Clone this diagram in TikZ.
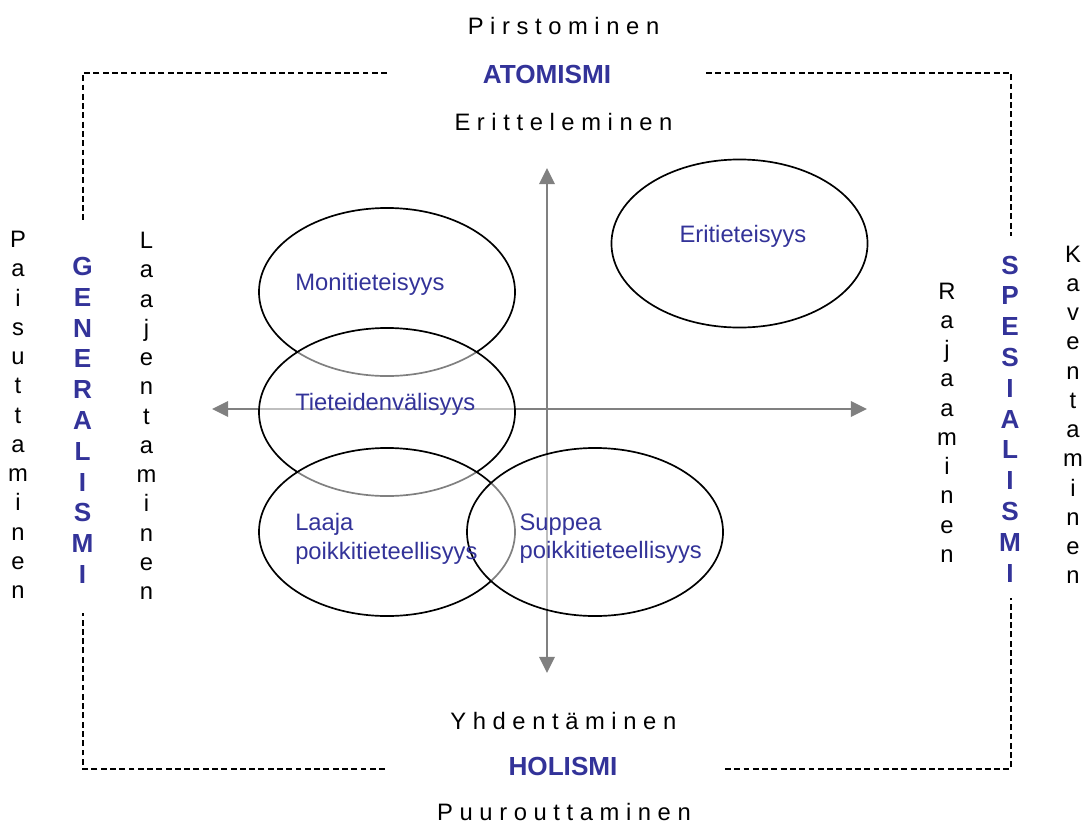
\documentclass[tikz,border=0pt]{standalone}
\usepackage{fontspec}
\setmainfont{Liberation Sans}
\usetikzlibrary{shapes.geometric,arrows.meta}
\definecolor{ismblue}{RGB}{51,51,153}
\definecolor{axisgrey}{RGB}{128,128,128}
\tikzset{
    field/.style={ellipse, draw, line width=1.2pt, minimum width=6.4cm, minimum height=4.2cm,
        inner sep=0pt, fill=white, fill opacity=0.5},
    fieldname/.style={text=ismblue, anchor=north west, inner sep=0pt, align=left,
        font=\fontsize{16.9}{20.1}\selectfont},
    ism/.style={text=ismblue, inner sep=0pt, font=\bfseries\fontsize{18.6}{21.9}\selectfont},
    verb/.style={inner sep=0pt, font=\fontsize{16.9}{20.8}\selectfont},
    frame/.style={line width=1.3pt, dash pattern=on 4.2pt off 2.4pt},
    axis/.style={axisgrey, line width=1.6pt,
        {Triangle[length=11.5pt,width=11pt]}-{Triangle[length=11.5pt,width=11pt]}}
}
\begin{document}
\begin{tikzpicture}[x=0.025cm, y=-0.025cm]
    \useasboundingbox (0,0) rectangle (1086,823);
            \node (pirst) [verb, anchor=base] at (563.5,34.3) {P i r s t o m i n e n};
            \node (atom) [ism, anchor=base] at (547,83.3) {ATOMISMI};
            \node (eritt) [verb, anchor=base] at (563.5,130) {E r i t t e l e m i n e n};
            \node (yhd) [verb, anchor=base] at (563.3,729.3) {Y h d e n t ä m i n e n};
            \node (hol) [ism, anchor=base] at (563,775) {HOLISMI};
            \node (puur) [verb, anchor=base] at (564,820.5) {P u u r o u t t a m i n e n};
        \node (pais) [verb, anchor=north, align=center] at (18,231)
            {P\\a\\i\\s\\u\\t\\t\\a\\m\\i\\n\\e\\n};
        \node (gen) [ism, anchor=north, align=center] at (82.5,257)
            {G\\E\\N\\E\\R\\A\\L\\I\\S\\M\\I};
        \node (laaj) [verb, anchor=north, align=center] at (146.5,232)
            {L\\a\\a\\j\\e\\n\\t\\a\\m\\i\\n\\e\\n};
        \node (raj) [verb, anchor=north, align=center] at (947,282.5)
            {R\\a\\j\\a\\a\\m\\i\\n\\e\\n};
        \node (spes) [ism, anchor=north, align=center] at (1010,255.5)
            {S\\P\\E\\S\\I\\A\\L\\I\\S\\M\\I};
        \node (kav) [verb, anchor=north, align=center] at (1073,245.5)
            {K\\a\\v\\e\\n\\t\\a\\m\\i\\n\\e\\n};
    \draw [frame] (387,73) -| (83,223);
    \draw [frame] (706,73) -| (1011,236);
    \draw [frame] (385,769) -| (83,613);
    \draw [frame] (725,769) -| (1011,598);
        \coordinate (xw) at (212,409);
        \coordinate (xe) at (867,409);
        \coordinate (yn) at (547,168);
        \coordinate (ys) at (547,673);
    \draw [axis] (xw) -- (xe);
    \draw [axis] (ys) -- (yn);
            \node (mon) [field] at (387,292) {};
            \node (tiet) [field] at (387,412) {};
            \node (laaja) [field] at (387,532) {};
            \node (supp) [field] at (595,532) {};
            \node (eri) [field] at (739.5,243.5) {};
        \node (monl) [fieldname] at (295,273.3) {Monitieteisyys};
        \node (tietl) [fieldname] at (295,393.3) {Tieteidenvälisyys};
        \node (laajal) [fieldname] at (295,513.3) {Laaja\\poikkitieteellisyys};
        \node (suppl) [fieldname] at (519.3,513.3) {Suppea\\poikkitieteellisyys};
        \node (eril) [fieldname] at (679.3,225) {Eritieteisyys};
\end{tikzpicture}
\end{document}
